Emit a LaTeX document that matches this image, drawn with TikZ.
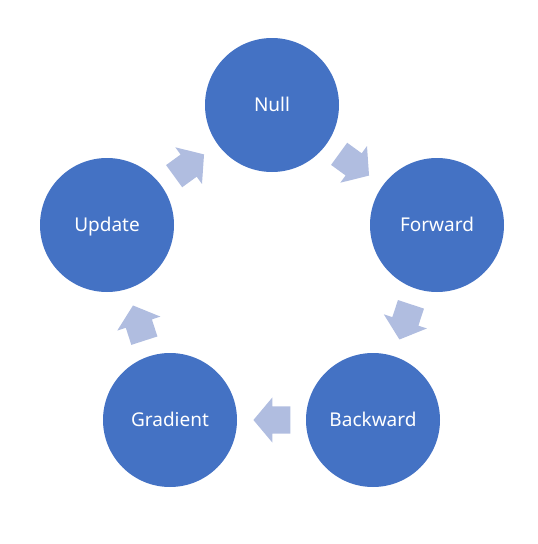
\documentclass[tikz,border=0pt]{standalone}
\usepackage{fontspec}
\setmainfont{Noto Sans}
\usetikzlibrary{shapes.arrows}
\definecolor{stepblue}{RGB}{68,114,196}
\definecolor{arrowblue}{RGB}{176,189,224}
\begin{document}
\begin{tikzpicture}[x=1pt, y=-1pt,
    stage/.style={circle, fill=stepblue, minimum size=134pt, inner sep=0pt,
      text=white, text height=13.6pt, text depth=0pt,
      font=\fontsize{19}{22}\selectfont},
    flow/.style={single arrow, fill=arrowblue, inner xsep=0pt, inner ysep=13.5pt,
      minimum height=37pt, single arrow head extend=9pt,
      single arrow tip angle=100, pos=0.41, sloped, allow upside down}]
    \useasboundingbox (0,0) rectangle (538,544);
    % Five stages
    \node[stage] (null) at (272,105) {Null};
    \node[stage] (forward) at (437,225) {Forward};
    \node[stage] (backward) at (373,420) {Backward};
    \node[stage] (gradient) at (170,420) {Gradient};
    \node[stage] (update) at (107,225) {Update};

    % Block arrows between them
    \path (null) -- node[flow] {} (forward);
    \path (forward) -- node[flow] {} (backward);
    \path (backward) -- node[flow] {} (gradient);
    \path (gradient) -- node[flow] {} (update);
    \path (update) -- node[flow] {} (null);
\end{tikzpicture}
\end{document}
